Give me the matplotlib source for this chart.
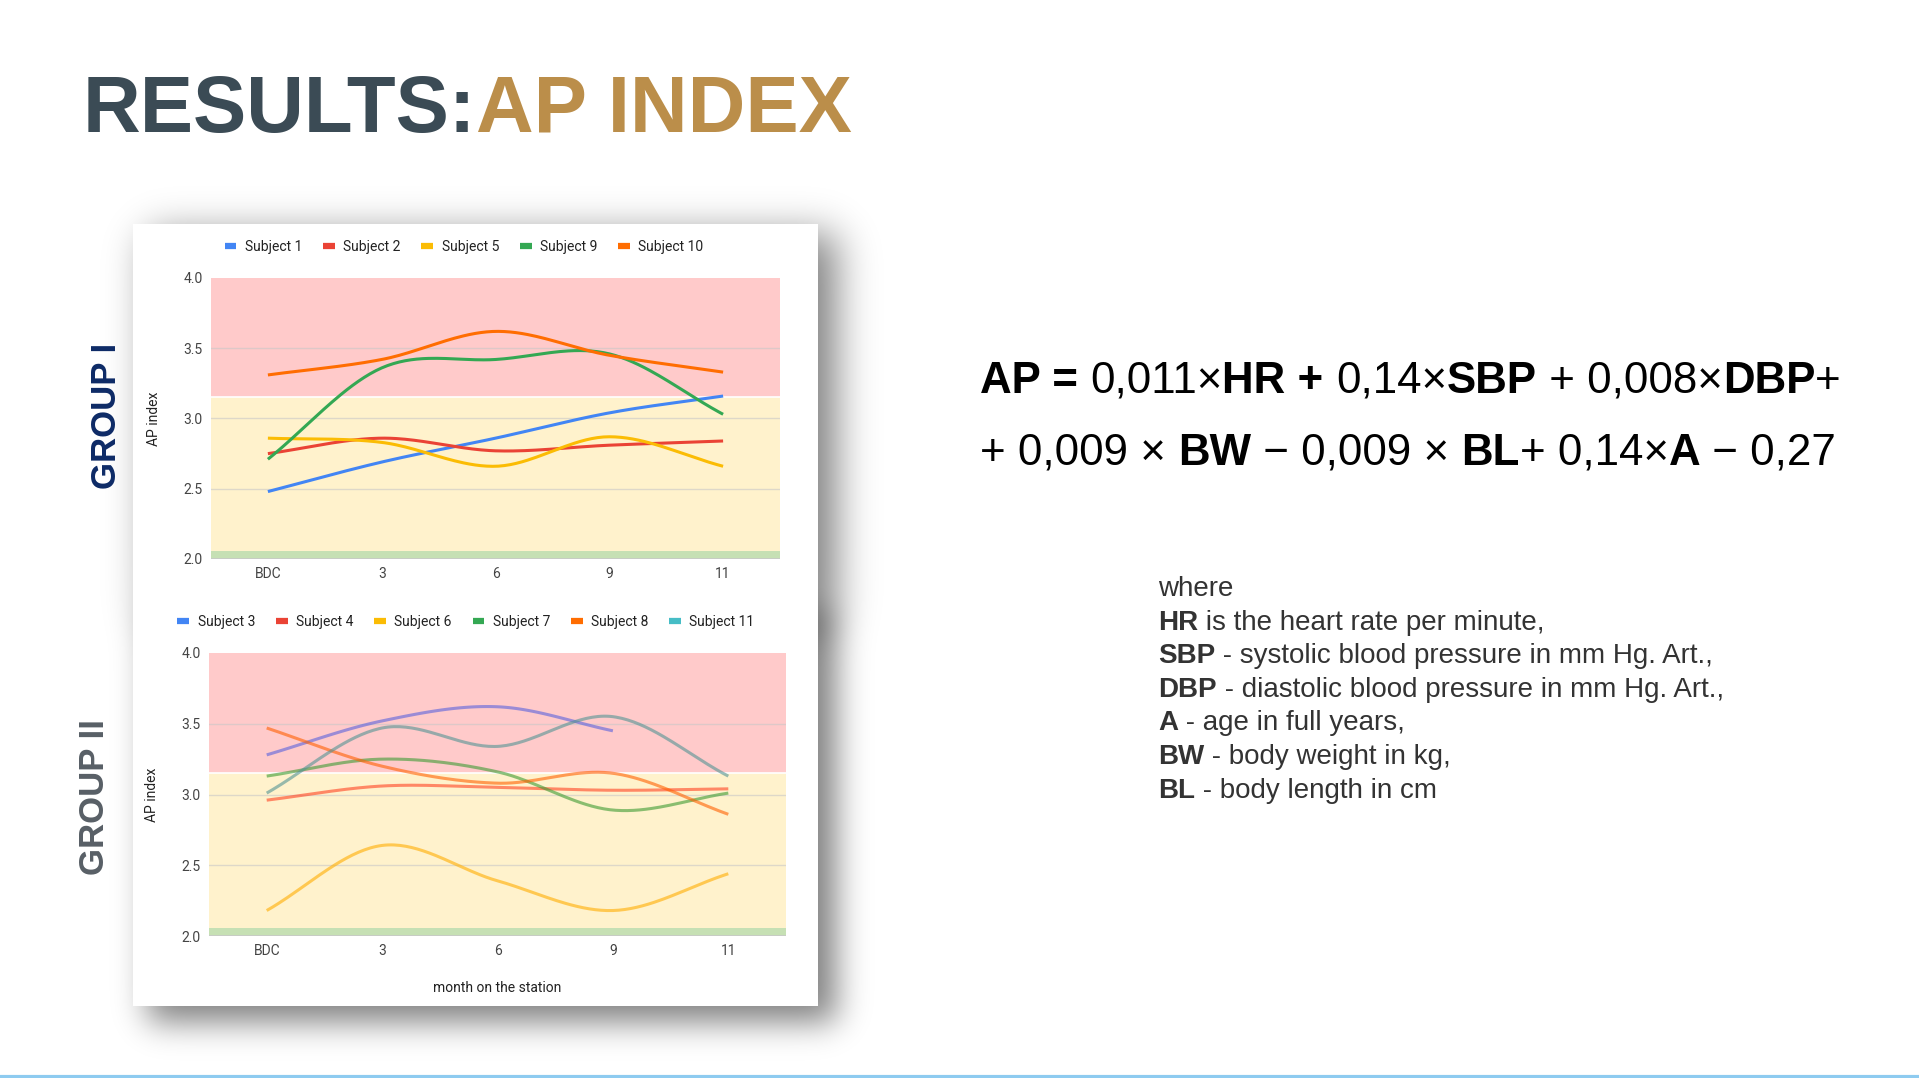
import math
import numpy as np
import matplotlib
matplotlib.use('Agg')
import matplotlib.pyplot as plt
from matplotlib.lines import Line2D
from matplotlib.patches import Rectangle

W, H = 1919, 1078

months = ['BDC', '3', '6', '9', '11']

# group I
g1_names = ['Subject 1', 'Subject 2', 'Subject 5', 'Subject 9', 'Subject 10']
s1 = [2.48, 2.69, 2.86, 3.04, 3.16]
s2 = [2.75, 2.86, 2.77, 2.81, 2.84]
s5 = [2.86, 2.83, 2.66, 2.87, 2.66]
s9 = [2.71, 3.36, 3.42, 3.46, 3.03]
s10 = [3.31, 3.42, 3.62, 3.45, 3.33]
g1_colors = ['#4285F4', '#EA4335', '#FBBC04', '#34A853', '#FF6D01']

# group II
g2_names = ['Subject 3', 'Subject 4', 'Subject 6', 'Subject 7', 'Subject 8', 'Subject 11']
s3 = [3.28, 3.52, 3.62, 3.45, np.nan]
s4 = [2.96, 3.06, 3.05, 3.03, 3.04]
s6 = [2.18, 2.64, 2.39, 2.18, 2.44]
s7 = [3.13, 3.25, 3.16, 2.89, 3.01]
s8 = [3.47, 3.20, 3.08, 3.15, 2.86]
s11 = [3.01, 3.47, 3.34, 3.55, 3.13]
g2_colors = ['#4285F4', '#EA4335', '#FBBC04', '#34A853', '#FF6D01', '#46BDC6']
g2_line_colors = ['#5861DE', '#FF4121', '#FFAD00', '#3C9B32', '#FF5F00', '#529394']

# zones of the index
zones = [(2.0, 2.06, '#C6E0B4'), (2.06, 3.15, '#FFF2CC'), (3.15, 4.0, '#FFCACA')]


def smooth(y, n=40):
    # catmull-rom through the points that exist
    x = np.arange(len(y), dtype=float)
    y = np.asarray(y, dtype=float)
    ok = ~np.isnan(y)
    x, y = x[ok], y[ok]
    m = np.zeros_like(y)
    m[1:-1] = (y[2:] - y[:-2]) / 2
    m[0] = y[1] - y[0]
    m[-1] = y[-1] - y[-2]
    xs, ys = [], []
    for i in range(len(y) - 1):
        t = np.linspace(0, 1, n)
        h00 = 2 * t**3 - 3 * t**2 + 1
        h10 = t**3 - 2 * t**2 + t
        h01 = -2 * t**3 + 3 * t**2
        h11 = t**3 - t**2
        xs.append(x[i] + t)
        ys.append(h00 * y[i] + h10 * m[i] + h01 * y[i + 1] + h11 * m[i + 1])
    return np.concatenate(xs), np.concatenate(ys)


fig = plt.figure(figsize=(W / 100, H / 100), dpi=100)
fig.patch.set_facecolor('white')

bg = fig.add_axes([0, 0, 1, 1])
bg.set_xlim(0, W)
bg.set_ylim(H, 0)
bg.axis('off')

# panel shadows
panels = [(133, 224, 818, 602), (133, 602, 818, 1006)]
gx = np.arange(W) + 0.5
gy = np.arange(H) + 0.5
erf = np.vectorize(math.erf)
shade = np.zeros((H, W))
for (x0, y0, x1, y1), sig in zip(panels, [20.0, 16.0]):
    k = sig * 1.414
    fx = 0.5 * (erf((gx - x0 - 15) / k) - erf((gx - x1 - 18) / k))
    fy = 0.5 * (erf((gy - y0 - 10) / k) - erf((gy - y1 - 16) / k))
    shade = shade + np.outer(fy, fx)
shade = np.clip(shade, 0, 1)
rgba = np.zeros((H, W, 4))
rgba[..., 3] = shade * 0.5
bg.imshow(rgba, extent=[0, W, H, 0], zorder=0, interpolation='bilinear')
for x0, y0, x1, y1 in panels:
    bg.add_patch(Rectangle((x0, y0), x1 - x0, y1 - y0, facecolor='white', edgecolor='none', zorder=1))

bg.axhline(1076.5, color='#8ECBF0', lw=3, zorder=2)
bg.set_xlim(0, W)
bg.set_ylim(H, 0)

renderer = fig.canvas.get_renderer()


def width_of(s, **kw):
    t = bg.text(0, 0, 'x' + s + 'x', **kw)
    r = bg.text(0, 0, 'xx', **kw)
    w = t.get_window_extent(renderer).width - r.get_window_extent(renderer).width
    t.remove()
    r.remove()
    return w


def pieces(x, y, parts, size, family='Liberation Sans', color='#000000'):
    for s, bold, *col in parts:
        kw = dict(fontsize=size, family=family, fontweight='bold' if bold else 'normal')
        c = col[0] if col else color
        bg.text(x, y, s, color=c, va='baseline', ha='left', zorder=3, **kw)
        x += width_of(s, **kw)


pieces(83, 132, [('RESULTS:', True, '#3B4B55'), ('AP INDEX', True, '#BB8E4A')], 57.5)

pieces(980, 393, [('AP = ', True), ('0,011×', False), ('HR + ', True), ('0,14×', False),
                  ('SBP', True), (' + 0,008×', False), ('DBP', True), ('+', False)], 31.6)
pieces(980, 465, [('+ 0,009 × ', False), ('BW', True), (' − 0,009 × ', False), ('BL', True),
                  ('+ 0,14×', False), ('A', True), (' − 0,27', False)], 31.6)

where = [[('where', False)],
         [('HR', True), (' is the heart rate per minute,', False)],
         [('SBP', True), (' - systolic blood pressure in mm Hg. Art.,', False)],
         [('DBP', True), (' - diastolic blood pressure in mm Hg. Art.,', False)],
         [('A', True), (' - age in full years,', False)],
         [('BW', True), (' - body weight in kg,', False)],
         [('BL', True), (' - body length in cm', False)]]
for i, line in enumerate(where):
    pieces(1158, 596 + i * 33.6, line, 20, color='#333333')

bg.text(106, 416, 'GROUP I', rotation=90, ha='center', va='center', fontsize=25,
        fontweight='bold', family='Liberation Sans', color='#0D2A66', zorder=3)
bg.text(94, 797, 'GROUP II', rotation=90, ha='center', va='center', fontsize=25,
        fontweight='bold', family='Liberation Sans', color='#585F66', zorder=3)


def style(ax):
    ax.set_xlim(-0.5, 4.5)
    ax.set_ylim(2.0, 4.0)
    for lo, hi, c in zones:
        ax.axhspan(lo, hi, color=c, lw=0, zorder=0)
    ax.axhline(3.15, color='white', lw=1.2, zorder=0.5)
    for g in [2.5, 3.0, 3.5]:
        ax.axhline(g, color='#c8c8c8', lw=1, alpha=0.6, zorder=0.6)
    ax.axhline(2.0, color='#c8c8c8', lw=1.2, zorder=0.6)
    ax.set_xticks(range(len(months)))
    ax.set_xticklabels(months)
    ax.set_yticks([2.0, 2.5, 3.0, 3.5, 4.0])
    ax.set_yticklabels(['2.0', '2.5', '3.0', '3.5', '4.0'])
    ax.tick_params(length=0, labelsize=10, colors='#444444', pad=6)
    for lab in ax.get_xticklabels() + ax.get_yticklabels():
        lab.set_family('Roboto')
    for sp in ax.spines.values():
        sp.set_visible(False)
    ax.patch.set_alpha(0)
    ax.set_ylabel('AP index', fontsize=10, family='Roboto', color='#222222')
    ax.yaxis.set_label_coords(-0.087, 0.5)


ax1 = fig.add_axes([211 / W, 1 - 559 / H, 569 / W, 281 / H])
style(ax1)
for vals, c in zip([s1, s2, s5, s9, s10], g1_colors):
    xs, ys = smooth(vals)
    ax1.plot(xs, ys, color=c, lw=2.2, zorder=3, solid_capstyle='butt')

ax2 = fig.add_axes([209 / W, 1 - 936 / H, 577 / W, 283 / H])
style(ax2)
for vals, c in zip([s3, s4, s6, s7, s8, s11], g2_line_colors):
    xs, ys = smooth(vals)
    ax2.plot(xs, ys, color=c, lw=2.2, alpha=0.6, zorder=3, solid_capstyle='butt')
ax2.set_xlabel('month on the station', fontsize=10, family='Roboto', color='#222222')
ax2.xaxis.set_label_coords(0.5, -0.16)


def legend(names, colors, cx, cy):
    hs = [Line2D([], [], color=c, lw=4.5, solid_capstyle='butt') for c in colors]
    leg = fig.legend(hs, names, loc='center', bbox_to_anchor=(cx / W, 1 - cy / H), ncol=len(names),
                     frameon=False, handlelength=0.85, handletextpad=0.6, columnspacing=1.5,
                     prop={'family': 'Roboto', 'size': 10})
    for t in leg.get_texts():
        t.set_color('#222222')


legend(g1_names, g1_colors, 464, 247)
legend(g2_names, g2_colors, 466, 622)

fig.savefig('out.png', dpi=100)
